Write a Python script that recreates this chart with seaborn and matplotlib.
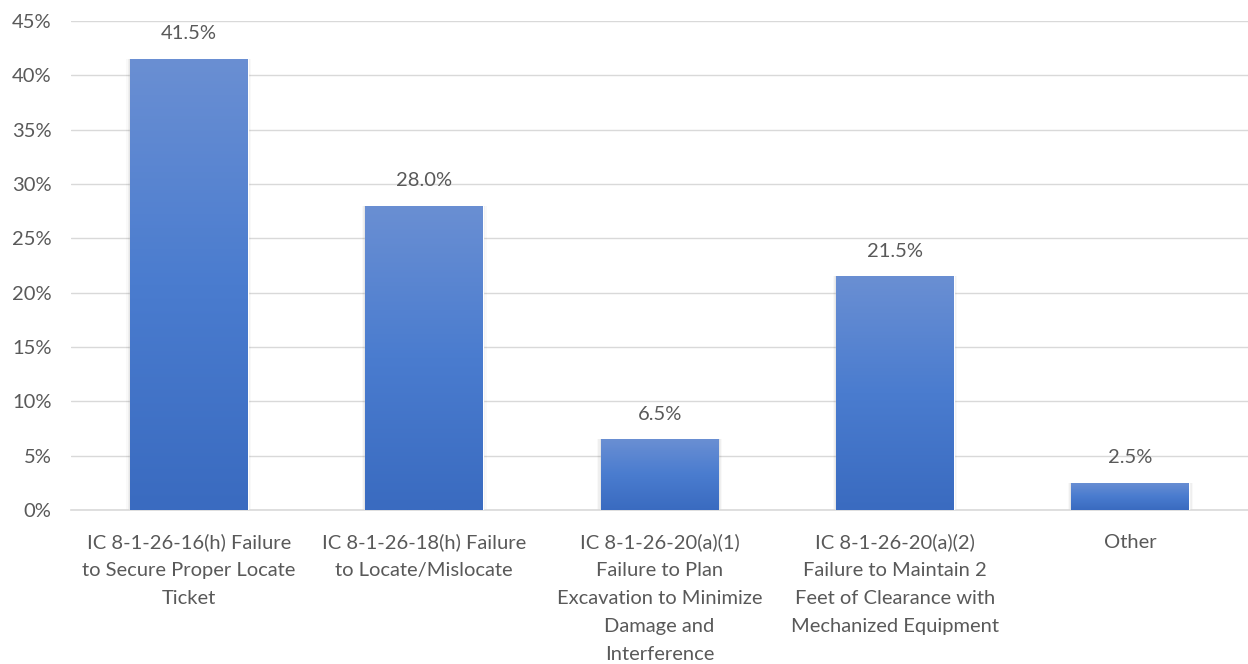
import numpy as np
import pandas as pd
import matplotlib
matplotlib.use("Agg")
import matplotlib.pyplot as plt
from matplotlib.colors import LinearSegmentedColormap
from matplotlib.patches import Rectangle
import seaborn as sns

categories = [
    "IC 8-1-26-16(h) Failure\nto Secure Proper Locate\nTicket",
    "IC 8-1-26-18(h) Failure\nto Locate/Mislocate",
    "IC 8-1-26-20(a)(1)\nFailure to Plan\nExcavation to Minimize\nDamage and\nInterference",
    "IC 8-1-26-20(a)(2)\nFailure to Maintain 2\nFeet of Clearance with\nMechanized Equipment",
    "Other",
]
shares = [41.5, 28.0, 6.5, 21.5, 2.5]
y_ticks = [0, 5, 10, 15, 20, 25, 30, 35, 40, 45]

df = pd.DataFrame({"category": categories, "share": shares})

sns.set_theme(style="white")
plt.rcParams["font.family"] = ["Lato", "DejaVu Sans"]

text_color = "#595959"
grid_color = "#d9d9d9"
fs = 14.5

fig = plt.figure(figsize=(12.48, 6.64), dpi=100)
ax = fig.add_axes([0.057, 0.232, 0.943, 0.7365])

sns.barplot(data=df, x="category", y="share", color="#4472c4", width=0.5,
            ax=ax, zorder=3)

ax.set_ylim(0, 45)
ax.set_xlim(-0.5, len(categories) - 0.5)
ax.set_yticks(y_ticks)
ax.set_yticklabels([f"{t}%" for t in y_ticks])
ax.set_xticks(range(len(categories)))
ax.set_xticklabels(categories, linespacing=1.78, ha="center")
ax.yaxis.grid(True, color=grid_color, linewidth=1.0, zorder=0)
ax.set_axisbelow(True)
ax.set_xlabel("")
ax.set_ylabel("")

for side in ["left", "right", "top"]:
    ax.spines[side].set_visible(False)
ax.spines["bottom"].set_color(grid_color)
ax.spines["bottom"].set_linewidth(1.2)

ax.tick_params(axis="y", length=0, pad=14, labelsize=fs, labelcolor=text_color)
ax.tick_params(axis="x", length=0, pad=17, labelsize=fs, labelcolor=text_color)

# vertical gradient fill and soft shadow on every bar
cmap = LinearSegmentedColormap.from_list("barfill", ["#3a6bc0", "#4a7ccf", "#6a8fd3"])
grad = np.linspace(0, 1, 256).reshape(-1, 1)
for patch in list(ax.patches):
    x0, y0 = patch.get_x(), patch.get_y()
    w, h = patch.get_width(), patch.get_height()
    for k, a in enumerate([0.06, 0.04, 0.025]):
        d = 0.005 * (k + 1)
        ax.add_patch(Rectangle((x0 - d, y0), w + 2 * d, h,
                               facecolor="#000000", alpha=a, edgecolor="none", zorder=2))
    im = ax.imshow(grad, cmap=cmap, aspect="auto", origin="lower",
                   extent=[x0, x0 + w, y0, y0 + h], zorder=3.5,
                   interpolation="bilinear")
    im.set_clip_path(patch)
    patch.set_facecolor("none")

for i, v in enumerate(shares):
    ax.annotate(f"{v:.1f}%", (i, v), xytext=(0, 18), textcoords="offset points",
                ha="center", va="center", fontsize=fs, color=text_color)

fig.savefig("out.png", dpi=100, facecolor="white")
